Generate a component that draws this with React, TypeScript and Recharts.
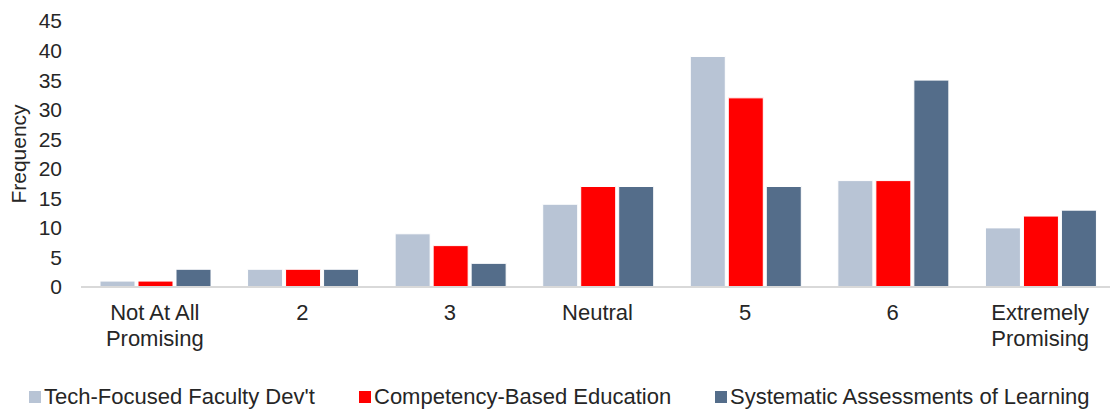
import React from "react";
import { Bar, BarChart, XAxis, YAxis } from "recharts";

const categories = [
  "Not At All\nPromising",
  "2",
  "3",
  "Neutral",
  "5",
  "6",
  "Extremely\nPromising",
];
const techFocused = [1, 3, 9, 14, 39, 18, 10];
const competencyBased = [1, 3, 7, 17, 32, 18, 12];
const systematic = [3, 3, 4, 17, 17, 35, 13];
const yTicks = [0, 5, 10, 15, 20, 25, 30, 35, 40, 45];

const seriesList = [
  { key: "tech", name: "Tech-Focused Faculty Dev't", color: "#b8c4d5", legendX: 29 },
  { key: "comp", name: "Competency-Based Education", color: "#ff0000", legendX: 359 },
  { key: "sys", name: "Systematic Assessments of Learning", color: "#546d8a", legendX: 715 },
];

const data = categories.map((name, i) => ({
  name,
  tech: techFocused[i],
  comp: competencyBased[i],
  sys: systematic[i],
}));

const FONT = "'Liberation Sans', Arial, sans-serif";
const TEXT = "#262626";

// two-line category labels split on "\n"
function CategoryTick({ x, y, payload }: any) {
  const lines = String(payload.value).split("\n");
  return (
    <text
      x={x}
      y={y}
      textAnchor="middle"
      fill={TEXT}
      fontSize={22}
      fontFamily={FONT}
    >
      {lines.map((l, i) => (
        <tspan key={i} x={x} dy={i === 0 ? 25 : 26}>
          {l}
        </tspan>
      ))}
    </text>
  );
}

function LegendRow() {
  return (
    <div style={{ position: "absolute", left: 0, top: 385, width: 1110, height: 24 }}>
      {seriesList.map((s) => (
        <div
          key={s.key}
          style={{
            position: "absolute",
            left: s.legendX,
            top: 0,
            display: "flex",
            alignItems: "center",
            fontFamily: FONT,
            fontSize: 22,
            color: TEXT,
            whiteSpace: "nowrap",
            lineHeight: "24px",
          }}
        >
          <span
            style={{
              width: 12,
              height: 12,
              background: s.color,
              display: "inline-block",
              marginRight: 3,
            }}
          />
          <span>{s.name}</span>
        </div>
      ))}
    </div>
  );
}

export default function App() {
  return (
    <div
      style={{
        position: "relative",
        width: 1110,
        height: 409,
        overflow: "hidden",
        background: "#fff",
      }}
    >
      <style>{"body{margin:0;}"}</style>
      <BarChart
        width={1114}
        height={409}
        data={data}
        margin={{ top: 21, right: 0, left: 0, bottom: 0 }}
        barCategoryGap={19}
        barGap={3}
      >
        <XAxis
          dataKey="name"
          interval={0}
          height={122}
          axisLine={{ stroke: "#d9d9d9", strokeWidth: 2 }}
          tickLine={false}
          tick={<CategoryTick />}
        />
        <YAxis
          width={81}
          domain={[0, 45]}
          ticks={yTicks}
          interval={0}
          axisLine={false}
          tickLine={false}
          tickSize={0}
          tickMargin={19}
          tick={{ fill: TEXT, fontSize: 21, fontFamily: FONT }}
          label={{
            value: "Frequency",
            angle: -90,
            position: "insideLeft",
            offset: 19,
            style: { fill: TEXT, fontSize: 21, fontFamily: FONT, textAnchor: "middle" },
          }}
        />
        {seriesList.map((s) => (
          <Bar
            key={s.key}
            dataKey={s.key}
            name={s.name}
            fill={s.color}
            stroke="#ffffff"
            strokeWidth={1}
            isAnimationActive={false}
          />
        ))}
      </BarChart>
      <LegendRow />
    </div>
  );
}
